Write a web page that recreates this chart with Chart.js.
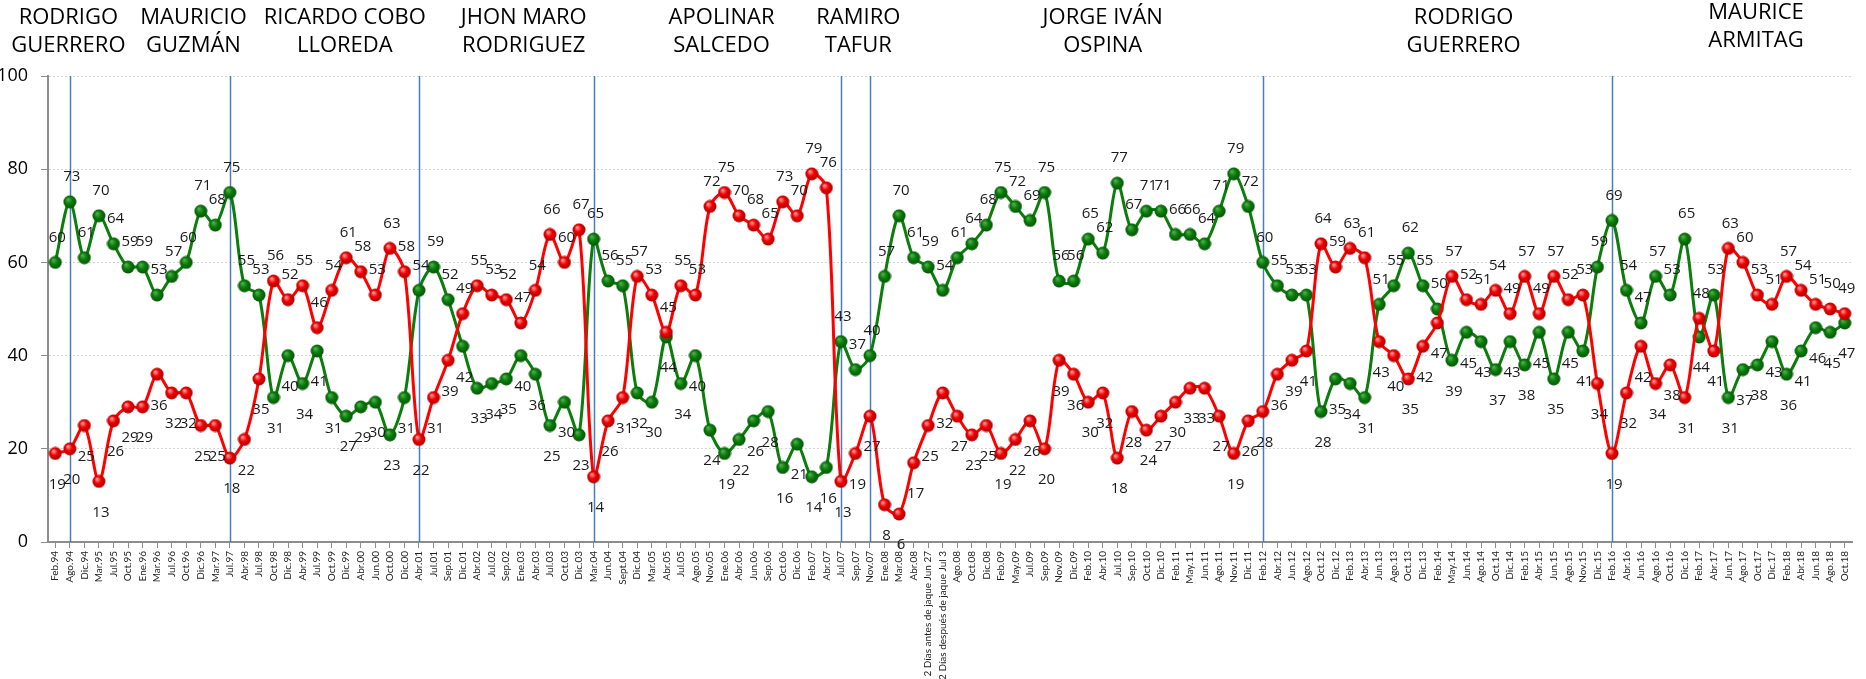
<!DOCTYPE html>
<html>
<head>
<meta charset="utf-8">
<script src="https://cdn.jsdelivr.net/npm/chart.js@4.4.1/dist/chart.umd.min.js"></script>
<style>
  html, body { margin: 0; padding: 0; background: #fff; }
</style>
</head>
<body>
<canvas id="lineChart" width="1866" height="679"></canvas>
<script>
const labels = [
  'Feb.94', 'Ago.94', 'Dic.94', 'Mar.95', 'Jul.95', 'Oct.95', 'Ene.96', 'Mar.96', 'Jul.96', 'Oct.96',
  'Dic.96', 'Mar.97', 'Jul.97', 'Abr.98', 'Jul.98', 'Oct.98', 'Dic.98', 'Abr.99', 'Jul.99',
  'Oct.99', 'Dic.99', 'Abr.00', 'Jun.00', 'Oct.00', 'Dic.00', 'Abr.01', 'Jul.01', 'Sep.01', 'Dic.01',
  'Abr.02', 'Jul.02', 'Sep.02', 'Ene.03', 'Abr.03', 'Jul.03', 'Oct.03', 'Dic.03', 'Mar.04', 'Jun.04', 'Sept.04',
  'Dic.04', 'Mar.05', 'Abr.05', 'Jul.05', 'Ago.05', 'Nov.05', 'Ene.06', 'Abr.06', 'Jun.06', 'Sep.06',
  'Oct.06', 'Dic.06', 'Feb.07', 'Abr.07', 'Jul.07', 'Sep.07', 'Nov.07', 'Ene.08', 'Mar.08', 'Abr.08',
  '2 Días antes de jaque Jun 27', '2 Días después de jaque Jul 3',
  'Ago.08', 'Oct.08', 'Dic.08', 'Feb.09', 'May.09', 'Jul.09', 'Sep.09', 'Nov.09', 'Dic.09',
  'Feb.10', 'Abr.10', 'Jul.10', 'Sep.10', 'Oct.10', 'Dic.10', 'Feb.11', 'May.11', 'Jun.11', 'Ago.11',
  'Nov.11', 'Dic.11',
  'Feb.12', 'Abr.12', 'Jun.12', 'Ago.12', 'Oct.12', 'Dic.12', 'Feb.13', 'Abr.13', 'Jun.13', 'Ago.13',
  'Oct.13', 'Dic.13', 'Feb.14', 'May.14', 'Jun.14', 'Ago.14', 'Oct.14', 'Dic.14', 'Feb.15', 'Abr.15', 'Jun.15',
  'Ago.15', 'Nov.15', 'Dic.15', 'Feb.16', 'Abr.16', 'Jun.16', 'Ago.16', 'Oct.16', 'Dic.16', 'Feb.17',
  'Abr.17', 'Jun.17', 'Ago.17', 'Oct.17', 'Dic.17', 'Feb.18', 'Abr.18', 'Jun.18', 'Ago.18', 'Oct.18'
]

const approval = [
  60, 73, 61, 70, 64, 59, 59, 53, 57, 60, 71, 68, 75, 55, 53, 31, 40, 34, 41,
  31, 27, 29, 30, 23, 31, 54, 59, 52, 42, 33, 34, 35, 40, 36, 25, 30, 23, 65, 56, 55,
  32, 30, 44, 34, 40, 24, 19, 22, 26, 28, 16, 21, 14, 16, 43, 37, 40, 57, 70, 61, 59,
  54, 61, 64, 68, 75, 72, 69, 75, 56, 56, 65, 62, 77, 67, 71, 71, 66, 66, 64, 71, 79, 72,
  60, 55, 53, 53, 28, 35, 34, 31, 51, 55, 62, 55, 50, 39, 45, 43, 37, 43, 38, 45, 35,
  45, 41, 59, 69, 54, 47, 57, 53, 65, 44, 53, 31, 37, 38, 43, 36, 41, 46, 45, 47
]

const disapproval = [
  19, 20, 25, 13, 26, 29, 29, 36, 32, 32, 25, 25, 18, 22, 35, 56, 52, 55, 46,
  54, 61, 58, 53, 63, 58, 22, 31, 39, 49, 55, 53, 52, 47, 54, 66, 60, 67, 14, 26, 31,
  57, 53, 45, 55, 53, 72, 75, 70, 68, 65, 73, 70, 79, 76, 13, 19, 27, 8, 6, 17, 25,
  32, 27, 23, 25, 19, 22, 26, 20, 39, 36, 30, 32, 18, 28, 24, 27, 30, 33, 33, 27, 19, 26,
  28, 36, 39, 41, 64, 59, 63, 61, 43, 40, 35, 42, 47, 57, 52, 51, 54, 49, 57, 49, 57,
  52, 53, 34, 19, 32, 42, 34, 38, 31, 48, 41, 63, 60, 53, 51, 57, 54, 51, 50, 49
]

// index of the poll where each new mayor starts
const termStarts = [1, 12, 25, 37, 54, 56, 83, 107]

const mayors = [
  { name: ['RODRIGO', 'GUERRERO'], at: 0.9 },
  { name: ['MAURICIO', 'GUZMÁN'], at: 9.5 },
  { name: ['RICARDO COBO', 'LLOREDA'], at: 19.9 },
  { name: ['JHON MARO', 'RODRIGUEZ'], at: 32.2 },
  { name: ['APOLINAR', 'SALCEDO'], at: 45.8 },
  { name: ['RAMIRO', 'TAFUR'], at: 55.2 },
  { name: ['JORGE IVÁN', 'OSPINA'], at: 72.0 },
  { name: ['RODRIGO', 'GUERRERO'], at: 96.8 },
  { name: ['MAURICE', 'ARMITAG'], at: 116.9, lift: 5 }
]

function sphere(light, mid, dark) {
  const c = document.createElement('canvas')
  c.width = 14
  c.height = 14
  const g = c.getContext('2d')
  const grad = g.createRadialGradient(5, 4.5, 0.5, 7, 7, 7)
  grad.addColorStop(0, light)
  grad.addColorStop(0.45, mid)
  grad.addColorStop(1, dark)
  g.fillStyle = grad
  g.beginPath()
  g.arc(7, 7, 6.5, 0, Math.PI * 2)
  g.fill()
  return c
}

const greenBall = sphere('#4fb04f', '#0b7d0b', '#035203')
const redBall = sphere('#ff9a9a', '#f00000', '#a80000')

const termLines = {
  id: 'termLines',
  beforeDatasetsDraw(chart) {
    const { ctx, chartArea, scales } = chart
    ctx.save()
    ctx.strokeStyle = '#4a7ebb'
    ctx.lineWidth = 1.5
    termStarts.forEach(i => {
      const x = Math.round(scales.x.getPixelForValue(i)) + 0.5
      ctx.beginPath()
      ctx.moveTo(x, chartArea.top)
      ctx.lineTo(x, chartArea.bottom)
      ctx.stroke()
    })
    ctx.restore()
  }
}

const valueLabels = {
  id: 'valueLabels',
  afterDatasetsDraw(chart) {
    const ctx = chart.ctx
    ctx.save()
    ctx.font = '15px "Open Sans"'
    ctx.fillStyle = '#1a1a1a'
    ctx.textAlign = 'center'
    ctx.textBaseline = 'middle'
    chart.data.datasets.forEach((ds, d) => {
      const other = chart.data.datasets[1 - d].data
      chart.getDatasetMeta(d).data.forEach((pt, i) => {
        const up = ds.data[i] >= other[i]
        ctx.fillText(ds.data[i], pt.x + 2, pt.y + (up ? -25 : 31))
      })
    })
    ctx.restore()
  }
}

const mayorNames = {
  id: 'mayorNames',
  afterDraw(chart) {
    const ctx = chart.ctx
    ctx.save()
    ctx.font = '22px "Open Sans"'
    ctx.fillStyle = '#000'
    ctx.textAlign = 'center'
    ctx.textBaseline = 'middle'
    mayors.forEach(m => {
      const x = chart.scales.x.getPixelForValue(m.at)
      const lift = m.lift || 0
      ctx.fillText(m.name[0], x, 18 - lift)
      ctx.fillText(m.name[1], x, 46 - lift)
    })
    ctx.restore()
  }
}

new Chart(document.getElementById('lineChart'), {
  type: 'line',
  data: {
    labels: labels,
    datasets: [
      {
        label: 'Aprueba',
        data: approval,
        borderColor: '#0b7d0b',
        borderWidth: 3,
        tension: 0.3,
        pointStyle: greenBall,
        order: 1
      },
      {
        label: 'Desaprueba',
        data: disapproval,
        borderColor: '#ff0000',
        borderWidth: 3,
        tension: 0.3,
        pointStyle: redBall,
        order: 0
      }
    ]
  },
  options: {
    responsive: false,
    animation: false,
    layout: {
      padding: { top: 76, right: 14, left: 0, bottom: 0 }
    },
    plugins: {
      legend: { display: false },
      tooltip: { enabled: false }
    },
    scales: {
      x: {
        offset: true,
        afterFit: scale => { scale.height = 137 },
        border: { color: '#8c8c8c', width: 2 },
        grid: {
          drawOnChartArea: false,
          tickLength: 6,
          tickColor: '#8c8c8c'
        },
        ticks: {
          autoSkip: false,
          minRotation: 90,
          maxRotation: 90,
          padding: 3,
          color: '#222',
          font: { family: 'Lato', size: 10 }
        }
      },
      y: {
        min: 0,
        max: 100,
        afterFit: scale => { scale.width = 48 },
        border: { color: '#8c8c8c', width: 2, dash: [2, 2] },
        grid: {
          color: '#d4d4d4',
          tickLength: 7,
          tickColor: '#8c8c8c',
          tickBorderDash: []
        },
        ticks: {
          stepSize: 20,
          padding: 13,
          color: '#000',
          font: { family: 'Open Sans', size: 18 }
        }
      }
    }
  },
  plugins: [termLines, valueLabels, mayorNames]
})
</script>
</body>
</html>
